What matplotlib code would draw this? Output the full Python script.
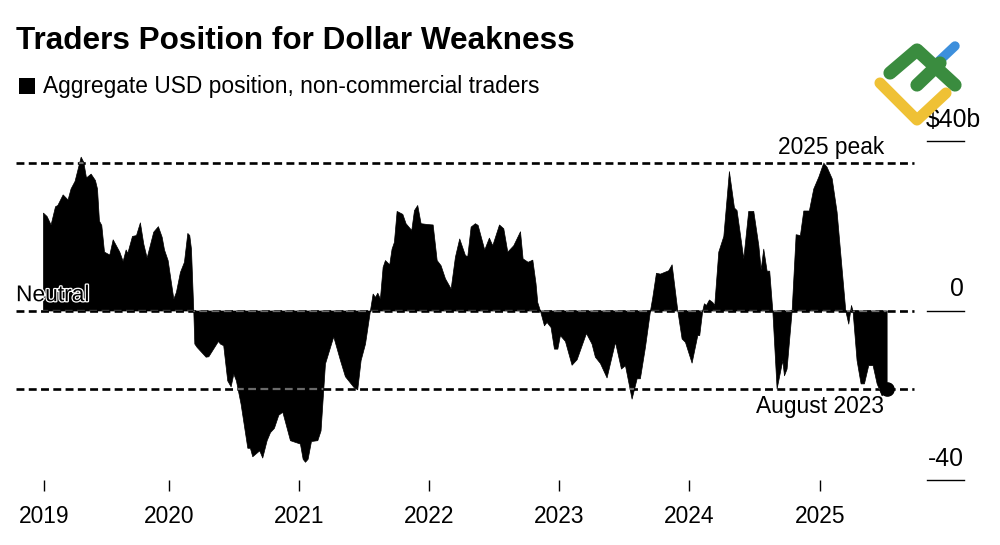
import matplotlib
matplotlib.use("Agg")
import matplotlib.patheffects as pe
import matplotlib.pyplot as plt
from matplotlib.lines import Line2D
from matplotlib.patches import Rectangle

plt.rcParams["font.family"] = ["Liberation Sans", "DejaVu Sans"]

years = [
    2019.000, 2019.028, 2019.059, 2019.093, 2019.111, 2019.152, 2019.190, 2019.213, 2019.244, 2019.291,
    2019.311, 2019.332, 2019.368, 2019.401, 2019.417, 2019.432, 2019.450, 2019.471, 2019.512, 2019.538,
    2019.589, 2019.615, 2019.638, 2019.651, 2019.687, 2019.718, 2019.748, 2019.774, 2019.800, 2019.851,
    2019.887, 2019.916, 2019.934, 2019.962, 2020.006, 2020.026, 2020.057, 2020.088, 2020.114, 2020.129,
    2020.142, 2020.160, 2020.168, 2020.186, 2020.255, 2020.276, 2020.350, 2020.366, 2020.391, 2020.422,
    2020.448, 2020.469, 2020.489, 2020.525, 2020.577, 2020.597, 2020.615, 2020.669, 2020.692, 2020.726,
    2020.752, 2020.782, 2020.816, 2020.847, 2020.906, 2020.944, 2020.983, 2021.004, 2021.022, 2021.042,
    2021.068, 2021.117, 2021.142, 2021.176, 2021.240, 2021.292, 2021.330, 2021.395, 2021.425, 2021.451,
    2021.485, 2021.523, 2021.544, 2021.562, 2021.580, 2021.600, 2021.621, 2021.639, 2021.672, 2021.690,
    2021.708, 2021.729, 2021.773, 2021.798, 2021.842, 2021.863, 2021.888, 2021.914, 2021.966, 2022.007,
    2022.038, 2022.068, 2022.102, 2022.146, 2022.179, 2022.212, 2022.256, 2022.274, 2022.300, 2022.333,
    2022.354, 2022.405, 2022.441, 2022.467, 2022.519, 2022.552, 2022.583, 2022.629, 2022.681, 2022.701,
    2022.740, 2022.776, 2022.801, 2022.814, 2022.835, 2022.866, 2022.886, 2022.917, 2022.943, 2022.969,
    2022.989, 2023.028, 2023.079, 2023.118, 2023.190, 2023.233, 2023.259, 2023.298, 2023.349, 2023.414,
    2023.460, 2023.491, 2023.542, 2023.581, 2023.606, 2023.645, 2023.684, 2023.702, 2023.730, 2023.761,
    2023.825, 2023.851, 2023.895, 2023.928, 2023.954, 2024.005, 2024.049, 2024.064, 2024.087, 2024.100,
    2024.116, 2024.139, 2024.165, 2024.180, 2024.211, 2024.250, 2024.293, 2024.332, 2024.352, 2024.404,
    2024.442, 2024.481, 2024.520, 2024.538, 2024.558, 2024.584, 2024.604, 2024.628, 2024.661, 2024.705,
    2024.718, 2024.738, 2024.777, 2024.808, 2024.841, 2024.867, 2024.910, 2024.944, 2024.983, 2025.021,
    2025.047, 2025.086, 2025.124, 2025.191, 2025.214, 2025.235, 2025.247, 2025.278, 2025.309, 2025.335,
    2025.368, 2025.402, 2025.433, 2025.471, 2025.510,
]
position = [
    23.1, 22.3, 20.3, 24.6, 24.9, 27.4, 26.2, 28.8, 30.6, 36.3,
    35.1, 31.4, 32.3, 30.8, 28.8, 21.2, 20.2, 13.9, 13.2, 16.8,
    13.9, 11.7, 14.4, 13.6, 17.6, 17.8, 20.8, 15.8, 12.5, 18.6,
    19.9, 17.4, 14.4, 11.9, 2.8, 4.4, 9.1, 11.5, 18.3, 17.8,
    14.6, 0.0, -7.8, -8.6, -10.9, -10.8, -7.2, -7.8, -8.2, -16.5,
    -17.9, -14.9, -16.5, -22.0, -32.4, -32.4, -34.4, -33.0, -34.7, -30.6,
    -28.7, -27.7, -24.6, -23.9, -30.6, -31.0, -31.4, -35.0, -35.7, -35.0,
    -30.8, -30.6, -28.3, -12.5, -6.1, -11.7, -15.5, -18.0, -18.6, -11.7,
    -7.8, 0.0, 4.0, 3.2, 4.2, 2.8, 10.3, 11.9, 10.9, 14.6,
    16.2, 23.5, 22.8, 20.6, 19.0, 23.7, 24.9, 20.6, 20.4, 20.3,
    11.9, 10.7, 7.6, 5.2, 12.7, 17.0, 13.1, 12.8, 19.8, 20.6,
    20.2, 14.4, 17.2, 15.4, 20.3, 19.4, 13.9, 15.4, 18.7, 12.3,
    11.5, 12.0, 6.4, 2.0, 0.0, -3.5, -2.7, -3.9, -9.0, -9.0,
    -5.8, -7.2, -12.8, -11.5, -5.3, -7.8, -10.9, -12.4, -15.8, -7.4,
    -13.7, -12.9, -20.8, -16.0, -16.0, -8.6, 0.0, 3.2, 8.9, 8.7,
    9.5, 10.9, 0.0, -6.6, -7.4, -12.3, -5.8, -5.8, 0.0, 1.7,
    1.3, 2.6, 2.0, 1.3, 13.9, 17.6, 32.9, 24.3, 23.7, 12.3,
    23.5, 23.5, 15.4, 9.7, 14.6, 9.4, 9.4, 0.0, -18.4, -11.7,
    -15.3, -13.7, 0.0, 18.0, 17.8, 23.6, 23.6, 28.8, 31.6, 34.9,
    33.9, 31.2, 23.3, 0.0, -3.1, 1.3, 0.0, -11.7, -17.2, -17.2,
    -12.9, -12.9, -17.2, -20.0, -18.8,
]
# tick marks, first gap is a bit short
tick_positions = [2019.008, 2019.973, 2020.978, 2021.981, 2022.985, 2023.988, 2024.996]
tick_labels = ["2019", "2020", "2021", "2022", "2023", "2024", "2025"]
peak_level = 34.9
low_level = -18.5
y_ticks = [40, 0, -40]
y_labels = ["$40b", "0", "-40"]

fig = plt.figure(figsize=(10, 5.45), dpi=100)
W, H = 1000, 545
# axes span pixels x 16-964, y 141-480
ax = fig.add_axes([16 / W, 1 - 480 / H, 948 / W, 339 / H])
ax.set_xlim(2018.792, 2026.107)
ax.set_ylim(-40, 40)
for s in ax.spines.values():
    s.set_visible(False)
ax.patch.set_alpha(0)

dash_end = 0.947
ystyle = dict(color="black", lw=1.9, linestyle=(0, (3.0, 1.65)), dash_capstyle="butt")
trans = ax.get_yaxis_transform()
for level in [peak_level, 0, low_level]:
    ax.plot([0, dash_end], [level, level], transform=trans, zorder=1, **ystyle)

area = ax.fill_between(years, position, 0, facecolor="black", edgecolor="black", lw=0.5, zorder=2)
clip = area.get_paths()[0]
for level in [peak_level, 0, low_level]:
    over, = ax.plot([0, dash_end], [level, level], transform=trans, zorder=3,
                    color="#6a6a6a", lw=1.6, linestyle=(0, (3.5, 2.0)), dash_capstyle="butt")
    over.set_clip_path(clip, ax.transData)

ax.plot(years[-1], low_level, "o", color="black", ms=9.5, zorder=4, clip_on=False)

for value, label in zip(y_ticks, y_labels):
    ax.plot([0.961, 1], [value, value], transform=trans, color="black", lw=1.0, clip_on=False)
    if label.startswith("$"):
        # this one runs past the tick line in the original
        ax.text(0.9595, value + 3.4, label, transform=trans, ha="left", va="baseline", fontsize=17.8)
    else:
        ax.text(1, value + 3.4, label, transform=trans, ha="right", va="baseline", fontsize=17.8)

ax.set_yticks([])
ax.set_xticks(tick_positions)
ax.set_xticklabels(tick_labels, fontsize=16.4)
ax.tick_params(axis="x", length=7.6, width=1.0, color="black", pad=10.5)

ax.text(2025.49, 36.9, "2025 peak", ha="right", va="baseline", fontsize=16.4)
ax.text(2025.49, -24.3, "August 2023", ha="right", va="baseline", fontsize=16.4)
ax.text(0, 2.2, "Neutral", transform=trans, ha="left", va="baseline", fontsize=16.4, zorder=5,
        path_effects=[pe.withStroke(linewidth=1.8, foreground="white")])

fig.text(16 / W, 1 - 49 / H, "Traders Position for Dollar Weakness", fontsize=22.7, fontweight="bold",
         ha="left", va="baseline")
fig.text(43 / W, 1 - 93 / H, "Aggregate USD position, non-commercial traders", fontsize=16.4,
         ha="left", va="baseline")
fig.add_artist(Rectangle((19 / W, 1 - 94 / H), 16 / W, 16 / H, transform=fig.transFigure,
                         color="black", lw=0))

# watermark logo, pixel coordinates
logo = [
    ("#3d8fdc", 6.8, [(938, 62), (955, 46)]),
    ("#3a8c3f", 9.5, [(890, 73), (917, 50), (955, 85)]),
    ("#3a8c3f", 9.5, [(917, 85), (940, 63)]),
    ("#efc135", 8.0, [(880, 83), (917, 120), (946, 93)]),
]
for colour, width, pts in logo:
    xs = [p[0] / W for p in pts]
    ys = [1 - p[1] / H for p in pts]
    fig.add_artist(Line2D(xs, ys, transform=fig.transFigure, color=colour, lw=width,
                          solid_capstyle="round", solid_joinstyle="round", zorder=10))

fig.savefig("out.png", dpi=100)
